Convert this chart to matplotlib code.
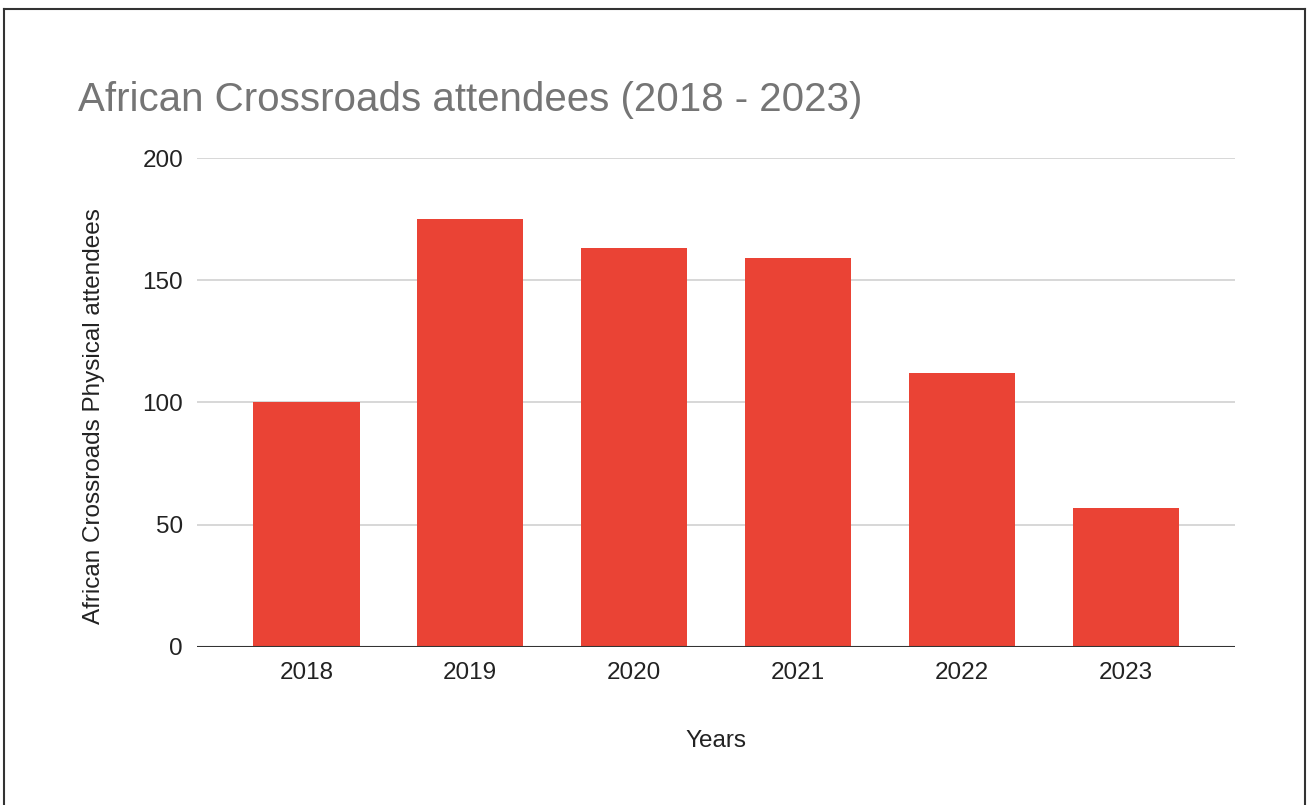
import matplotlib
matplotlib.use("Agg")
import matplotlib.pyplot as plt
from matplotlib.lines import Line2D

years = ["2018", "2019", "2020", "2021", "2022", "2023"]
attendees = [100, 175, 163, 159, 112, 57]
y_ticks = [0, 50, 100, 150, 200]

plt.rcParams["font.family"] = ["Liberation Sans", "DejaVu Sans"]

fig = plt.figure(figsize=(13.07, 8.05), dpi=100)
ax = fig.add_axes([0.1507, 0.1963, 0.7943, 0.6074])

x = range(len(years))
ax.bar(x, attendees, width=0.65, color="#EA4335", zorder=3)

ax.set_xlim(-0.667, len(years) - 1 + 0.667)
ax.set_ylim(0, 200)
ax.set_yticks(y_ticks)
ax.set_xticks(list(x))
ax.set_xticklabels(years)
ax.grid(axis="y", color="#d4d4d4", linewidth=1.3, zorder=0)
ax.axhline(0, color="#333333", linewidth=1.5, zorder=4)

for s in ax.spines.values():
    s.set_visible(False)
ax.tick_params(axis="both", length=0, labelsize=17.5, colors="#222222")
ax.tick_params(axis="y", pad=10)
ax.tick_params(axis="x", pad=11)

ax.set_xlabel("Years", fontsize=17.5, color="#222222")
ax.xaxis.set_label_coords(0.5, -0.17)
ax.set_ylabel("African Crossroads Physical attendees", fontsize=17.5,
              color="#222222")
ax.yaxis.set_label_coords(-0.089, 0.472)

fig.text(78 / 1307, 1 - 111 / 805, "African Crossroads attendees (2018 - 2023)",
         fontsize=29, color="#757575", ha="left", va="baseline")

# outer frame: left, top, right
for xs, ys in [([4 / 1307, 4 / 1307], [0, 1 - 9 / 805]),
               ([4 / 1307, 1305 / 1307], [1 - 9 / 805, 1 - 9 / 805]),
               ([1305 / 1307, 1305 / 1307], [0, 1 - 9 / 805])]:
    fig.add_artist(Line2D(xs, ys, transform=fig.transFigure,
                          color="#333333", linewidth=1.5))

fig.savefig("out.png", dpi=100)
